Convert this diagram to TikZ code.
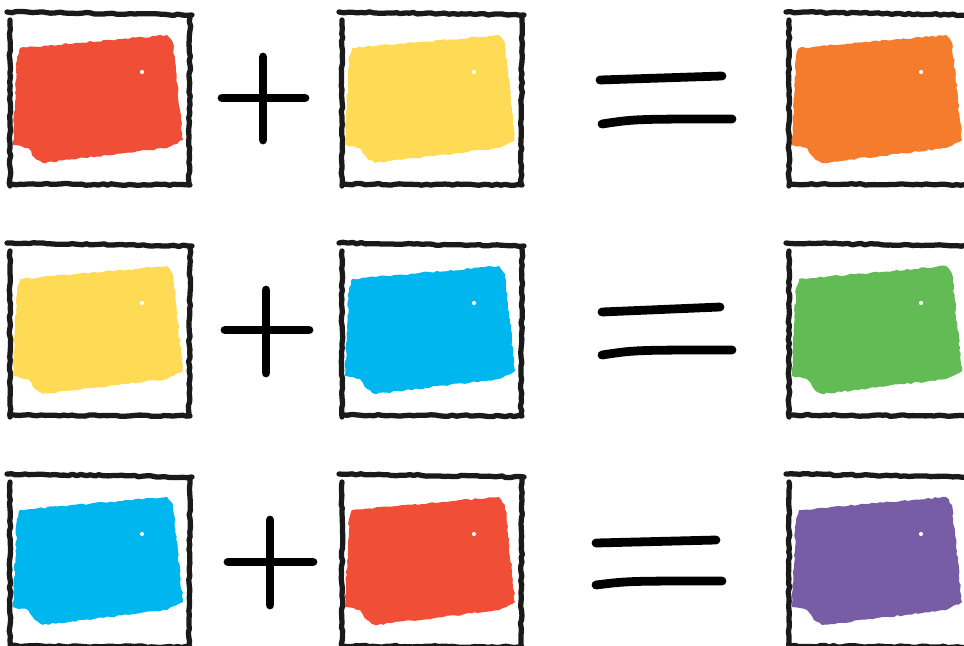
\documentclass[tikz,border=0pt]{standalone}
\usetikzlibrary{decorations.pathmorphing}
\definecolor{redpaint}{HTML}{F04E37}
\definecolor{yellowpaint}{HTML}{FFDA55}
\definecolor{bluepaint}{HTML}{00B6EE}
\definecolor{orangepaint}{HTML}{F47C2C}
\definecolor{greenpaint}{HTML}{63BB55}
\definecolor{purplepaint}{HTML}{775DA6}
\definecolor{ink}{HTML}{1A1A1A}

\begin{document}
\begin{tikzpicture}[
      x=0.02cm, y=-0.02cm,
      frame/.style={draw=ink, line width=3pt, line cap=round, line join=round,
        decorate, decoration={random steps, segment length=2.5pt, amplitude=0.45pt}},
      blob/.style={decorate, decoration={random steps, segment length=2pt, amplitude=0.5pt}},
      sign/.style={line width=5pt, line cap=round},
      swatch/.pic={
        \draw[frame] (-1,0) -- (184,3);
        \draw[frame] (182,5) -- (181,171);
        \draw[frame] (3,172) -- (182,173);
        \draw[frame] (2,8) -- (2,174);
        \path[blob, pic actions] (12,36) -- (159,23) -- (165,31) -- (175,128) -- (159,136)
          -- (35,151) -- (27,146) -- (20,136) -- (5,133) -- (9,45) -- cycle;
        \fill[white] (134,60) circle (1.2pt);
      },
    ]
    \useasboundingbox (0,0) rectangle (964,646);
    \clip (0,0) rectangle (964,646);

    % red + yellow = orange
    \pic[fill=redpaint] (ra) at (8,12) {swatch};
    \draw[sign] (222,98) -- (305,98) (263,57) -- (263,140);
    \pic[fill=yellowpaint] (rb) at (340,12) {swatch};
    \draw[sign] (600,80) -- (722,76) (602,124) .. controls (635,119) .. (732,119);
    \pic[fill=orangepaint] (rc) at (787,12) {swatch};

    % yellow + blue = green
    \pic[fill=yellowpaint] (ga) at (8,243) {swatch};
    \draw[sign] (225,330) -- (309,330) (266,290) -- (266,373);
    \pic[fill=bluepaint] (gb) at (340,243) {swatch};
    \draw[sign] (602,312) -- (720,307) (602,355) .. controls (635,350) .. (732,350);
    \pic[fill=greenpaint] (gc) at (787,243) {swatch};

    % blue + red = purple
    \pic[fill=bluepaint] (pa) at (8,474) {swatch};
    \draw[sign] (228,562) -- (313,562) (270,520) -- (270,605);
    \pic[fill=redpaint] (pb) at (340,474) {swatch};
    \draw[sign] (596,543) -- (716,540) (596,585) .. controls (628,581) .. (722,581);
    \pic[fill=purplepaint] (pc) at (787,474) {swatch};
  \end{tikzpicture}
\end{document}
